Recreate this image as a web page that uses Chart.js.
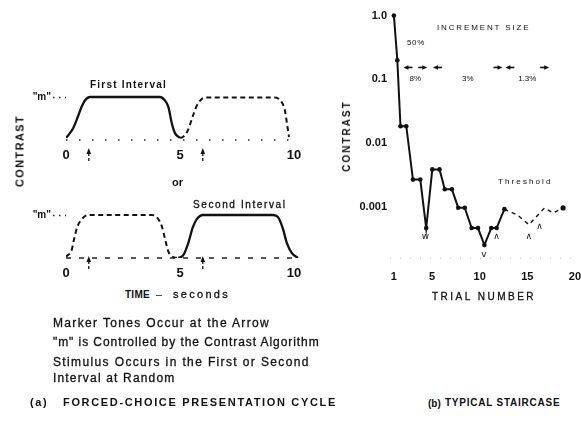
<!DOCTYPE html>
<html>
<head>
<meta charset="utf-8">
<script src="https://cdn.jsdelivr.net/npm/chart.js@4/dist/chart.umd.min.js"></script>
<style>
  html, body { margin: 0; padding: 0; background: #fff; }
  #page { position: relative; width: 581px; height: 432px; overflow: hidden; background: #fff;
          font-family: "Liberation Sans", Arial, sans-serif; color: #111; }
  canvas { position: absolute; }
  .t { position: absolute; white-space: nowrap; line-height: 1; }
  .b { font-weight: bold; }
  .n { -webkit-text-stroke: 0.3px #111; }
  .rot { transform: translate(-50%, -50%) rotate(-90deg); transform-origin: 50% 50%; }
</style>
</head>
<body>
<div id="page">
  <canvas id="cycleFirst" width="305" height="100" style="left:0;top:70px"></canvas>
  <canvas id="cycleSecond" width="305" height="100" style="left:0;top:188px"></canvas>
  <canvas id="staircase" width="281" height="290" style="left:300px;top:0"></canvas>

  <!-- panel (a) -->
  <div class="t b rot" data-w="72" style="left:20px;top:151px;font-size:11px">CONTRAST</div>
  <div class="t b" data-w="77" style="left:90px;top:80px;font-size:10px">First Interval</div>
  <div class="t b" style="left:172px;top:177px;font-size:11px">or</div>
  <div class="t n" data-w="94" style="left:193px;top:200px;font-size:10px">Second Interval</div>
  <div class="t b" data-w="25" style="left:125px;top:290px;font-size:10px">TIME</div>
  <div class="t" style="left:156px;top:289px;font-size:11px">–</div>
  <div class="t n" data-w="57" style="left:173px;top:289px;font-size:11px">seconds</div>
  <div class="t n" data-w="217" style="left:53px;top:317px;font-size:12px">Marker Tones Occur at the Arrow</div>
  <div class="t n" data-w="267" style="left:53px;top:336px;font-size:12px">"m" is Controlled by the Contrast Algorithm</div>
  <div class="t n" data-w="257" style="left:53px;top:356px;font-size:12px">Stimulus Occurs in the First or Second</div>
  <div class="t n" data-w="122" style="left:53px;top:372px;font-size:12px">Interval at Random</div>
  <div class="t b" data-w="18" style="left:30px;top:397px;font-size:11px">(a)</div>
  <div class="t b" data-w="274" style="left:63px;top:397px;font-size:11px">FORCED-CHOICE PRESENTATION CYCLE</div>

  <!-- panel (b) -->
  <div class="t b rot" data-w="72" style="left:347px;top:136px;font-size:10px">CONTRAST</div>
  <div class="t n" data-w="104" style="left:432px;top:292px;font-size:10px">TRIAL NUMBER</div>
  <div class="t" data-w="93" style="left:437px;top:24px;font-size:8px">INCREMENT SIZE</div>
  <div class="t" data-w="18" style="left:407px;top:39px;font-size:8px">50%</div>
  <div class="t" data-w="55" style="left:498px;top:178px;font-size:8px">Threshold</div>
  <div class="t b" style="left:428px;top:399px;font-size:10px">(b)</div>
  <div class="t b" data-w="115" style="left:445px;top:398px;font-size:10px">TYPICAL STAIRCASE</div>
</div>

<script>
// ---- Forced-choice presentation cycle (time in seconds, contrast as a fraction of "m") ----
const cycleTicks = [0, 5, 10];
const markerTimes = [1, 6];

// First interval carries the stimulus (solid), second interval dashed
const firstSolidT = [0, 0.1, 0.32, 0.54, 0.69, 0.83, 1.05, 4.12, 4.34, 4.49, 4.64, 4.78, 5.0];
const firstSolidC = [0.05, 0.11, 0.28, 0.57, 0.78, 0.92, 1.0, 1.0, 0.92, 0.77, 0.39, 0.16, 0.05];
const firstDashT  = [5.0, 5.13, 5.35, 5.57, 5.79, 6.1, 9.17, 9.47, 9.6, 9.69, 9.78];
const firstDashC  = [0.05, 0.07, 0.23, 0.57, 0.85, 0.99, 0.99, 0.87, 0.69, 0.39, 0.07];

// Second interval carries the stimulus (solid), first interval dashed
const secondDashT  = [0, 0.25, 0.35, 0.5, 0.69, 0.98, 3.76, 3.98, 4.2, 4.35, 4.49, 4.71, 4.93];
const secondDashC  = [0.03, 0.19, 0.43, 0.73, 0.9, 1.0, 1.0, 0.95, 0.74, 0.43, 0.15, 0.02, 0];
const secondSolidT = [4.93, 5.15, 5.37, 5.56, 5.73, 6.01, 9.08, 9.3, 9.52, 9.68, 9.9, 10.17];
const secondSolidC = [0, 0.07, 0.36, 0.71, 0.9, 1.0, 1.0, 0.95, 0.67, 0.36, 0.12, 0];

// ---- Typical staircase ----
const trialTicks = [1, 5, 10, 15, 20];
const levelTicks = [1, 0.1, 0.01, 0.001];
const levelLabels = ['1.0', '0.1', '0.01', '0.001'];

const stairTrial = [1.0, 1.36, 1.69, 2.3, 3.0, 3.77, 4.39, 5.03, 5.79, 6.34, 7.09, 7.75, 8.44, 9.16, 9.83, 10.5, 11.22, 11.78, 12.6];
const stairLevel = [1.0, 0.2, 0.0185, 0.0185, 0.0027, 0.0027, 0.00047, 0.0039, 0.0039, 0.0019, 0.0019, 0.00098, 0.00098, 0.00047, 0.00047, 0.000255, 0.00047, 0.00047, 0.00093];
const threshTrial = [12.6, 13.99, 15.17, 16.81, 17.74, 18.76];
const threshLevel = [0.00093, 0.00075, 0.00053, 0.00097, 0.00081, 0.00097];

const reversalTrial = [4.3, 10.45, 11.78, 15.17, 16.3];
const reversalLevel = [0.00034, 0.000178, 0.00034, 0.00034, 0.0005];
const reversalSym   = ['w', 'v', '\u2227', '\u2227', '\u2227'];

const incrementLabel = ['8%', '3%', '1.3%'];
const incrementFrom  = [2.0, 5.1, 12.7];
const incrementTo    = [4.5, 12.4, 17.3];
const incrementLevel = 0.154;

// ---------------------------------------------------------------
const FONT = '"Liberation Sans", Arial, sans-serif';
const INK = '#111';
const CLEAR = 'rgba(0,0,0,0)';
const pts = (xs, ys) => xs.map((x, i) => ({ x, y: ys[i] }));

// stretch captions to their measured widths
document.querySelectorAll('.t[data-w]').forEach(el => {
  const target = +el.dataset.w;
  const n = el.textContent.length;
  const nat = el.offsetWidth;
  el.style.letterSpacing = ((target - nat) / n).toFixed(2) + 'px';
});

// dotted time/trial axis along the bottom of the plot area
const dottedBase = {
  id: 'dottedBase',
  beforeDatasetsDraw(chart, args, o) {
    const { ctx, chartArea: a } = chart;
    const yb = chart.scales.y.getPixelForValue(o.value);
    ctx.save();
    ctx.strokeStyle = o.color; ctx.lineWidth = o.width; ctx.setLineDash(o.dash);
    ctx.beginPath(); ctx.moveTo(a.left, yb); ctx.lineTo(o.right ? o.right : a.right, yb); ctx.stroke();
    ctx.restore();
  }
};

// upward arrows marking the tone times under the time axis
const markerArrows = {
  id: 'markerArrows',
  afterDraw(chart, args, o) {
    const { ctx, scales: { x, y } } = chart;
    const base = y.getPixelForValue(0);
    ctx.save();
    ctx.fillStyle = INK; ctx.strokeStyle = INK;
    o.times.forEach(t => {
      const px = x.getPixelForValue(t);
      const y1 = base + o.from, y2 = base + o.to;
      ctx.beginPath();
      ctx.moveTo(px, y1); ctx.lineTo(px - 2.3, y1 + 6); ctx.lineTo(px + 2.3, y1 + 6); ctx.closePath();
      ctx.fill();
      ctx.lineWidth = 1.3; ctx.setLineDash([3, 2]);
      ctx.beginPath(); ctx.moveTo(px, y1 + 5); ctx.lineTo(px, y2); ctx.stroke();
      ctx.setLineDash([]);
    });
    ctx.restore();
  }
};

function cycleChart(id, solid, dashed, arrowFrom, arrowTo, baseDash) {
  const unit = 43, pxPerSec = 22.8, left = 66, baseY = 70, yMax = 1.15, xMax = 10.3;
  const canvas = document.getElementById(id);
  return new Chart(canvas, {
    type: 'line',
    data: {
      datasets: [
        { data: solid, borderColor: INK, borderWidth: 2.3, cubicInterpolationMode: 'monotone', pointRadius: 0 },
        { data: dashed, borderColor: INK, borderWidth: 2, borderDash: [5, 3.5], cubicInterpolationMode: 'monotone', pointRadius: 0 }
      ]
    },
    options: {
      responsive: false, animation: false, devicePixelRatio: 1,
      layout: { autoPadding: false, padding: { left: 0, bottom: 0, top: baseY - yMax * unit, right: canvas.width - left - xMax * pxPerSec } },
      plugins: {
        legend: { display: false }, tooltip: { enabled: false },
        markerArrows: { times: markerTimes, from: arrowFrom, to: arrowTo },
        dottedBase: { value: 0, color: '#222', width: 1.6, dash: baseDash, right: left + 10 * pxPerSec }
      },
      scales: {
        x: {
          type: 'linear', min: 0, max: xMax,
          afterBuildTicks: s => { s.ticks = cycleTicks.map(v => ({ value: v })); },
          afterFit: s => { s.height = canvas.height - baseY; },
          grid: { display: true, drawOnChartArea: false, drawTicks: true, tickLength: 8, tickColor: CLEAR },
          border: { display: false },
          ticks: { padding: 0, color: INK, font: { family: FONT, size: 13, weight: 'bold' }, maxRotation: 0, autoSkip: false }
        },
        y: {
          min: 0, max: yMax,
          afterBuildTicks: s => { s.ticks = [{ value: 1 }]; },
          afterFit: s => { s.width = left; },
          grid: { drawOnChartArea: false, drawTicks: true, tickLength: 13, tickColor: '#222', tickWidth: 1.5, tickBorderDash: [1.5, 4.5] },
          border: { display: false },
          ticks: { padding: 2, color: INK, font: { family: FONT, size: 10, weight: 'bold' }, callback: () => '"m"' }
        }
      }
    },
    plugins: [markerArrows, dottedBase]
  });
}

cycleChart('cycleFirst', pts(firstSolidT, firstSolidC), pts(firstDashT, firstDashC), 8, 22, [1.5, 11.5]);
cycleChart('cycleSecond', pts(secondSolidT, secondSolidC), pts(secondDashT, secondDashC), -2, 11, [5, 8]);

// increment-size arrows and reversal marks on the staircase
const stairNotes = {
  id: 'stairNotes',
  afterDatasetsDraw(chart) {
    const { ctx, scales: { x, y } } = chart;
    ctx.save();
    ctx.fillStyle = INK; ctx.strokeStyle = INK; ctx.lineWidth = 1.6;
    const yy = y.getPixelForValue(incrementLevel);
    const head = (px, dir) => {
      ctx.beginPath();
      ctx.moveTo(px, yy); ctx.lineTo(px - dir * 5, yy - 2.2); ctx.lineTo(px - dir * 5, yy + 2.2); ctx.closePath(); ctx.fill();
      ctx.beginPath(); ctx.moveTo(px - dir * 4, yy); ctx.lineTo(px - dir * 9, yy); ctx.stroke();
    };
    ctx.font = '8px ' + FONT; ctx.textAlign = 'center'; ctx.textBaseline = 'middle';
    incrementLabel.forEach((lab, i) => {
      const a = x.getPixelForValue(incrementFrom[i]), b = x.getPixelForValue(incrementTo[i]);
      head(a, -1); head(b, 1);
      ctx.fillText(lab, (a + b) / 2, yy + 11);
    });
    ctx.font = '9px "DejaVu Sans", ' + FONT;
    reversalSym.forEach((s, i) => {
      ctx.fillText(s, x.getPixelForValue(reversalTrial[i]), y.getPixelForValue(reversalLevel[i]));
    });
    ctx.restore();
  }
};

(function () {
  const canvas = document.getElementById('staircase');
  const left = 90, decadePx = 64, oneY = 15, padTop = 6, botLog = -3.8;
  const topLog = (oneY - padTop) / decadePx;
  const xMin = 0.59, xMax = 20.2;
  const lastIdx = threshTrial.length - 1;
  new Chart(canvas, {
    type: 'line',
    data: {
      datasets: [
        { data: pts(stairTrial, stairLevel), borderColor: INK, borderWidth: 2, tension: 0,
          pointRadius: 2.3, pointBackgroundColor: INK, pointBorderWidth: 0 },
        { data: pts(threshTrial, threshLevel), borderColor: INK, borderWidth: 1.4, borderDash: [4, 4], tension: 0,
          pointRadius: c => (c.dataIndex === lastIdx ? 2.6 : 0), pointBackgroundColor: INK, pointBorderWidth: 0 }
      ]
    },
    options: {
      responsive: false, animation: false, devicePixelRatio: 1,
      layout: { autoPadding: false, padding: { left: 0, right: 0, bottom: 0, top: padTop } },
      plugins: {
        legend: { display: false }, tooltip: { enabled: false },
        dottedBase: { value: Math.pow(10, botLog), color: '#bbb', width: 1, dash: [1, 9] }
      },
      scales: {
        x: {
          type: 'linear', min: xMin, max: xMax,
          afterBuildTicks: s => { s.ticks = trialTicks.map(v => ({ value: v })); },
          afterFit: s => { s.height = canvas.height - (oneY - botLog * decadePx); },
          grid: { display: true, drawOnChartArea: false, drawTicks: true, tickLength: 12, tickColor: CLEAR },
          border: { display: false },
          ticks: { padding: 0, color: INK, font: { family: FONT, size: 11, weight: 'bold' }, maxRotation: 0, autoSkip: false }
        },
        y: {
          type: 'logarithmic', min: Math.pow(10, botLog), max: Math.pow(10, topLog),
          afterBuildTicks: s => { s.ticks = levelTicks.map(v => ({ value: v })); },
          afterFit: s => { s.width = left; },
          grid: { display: true, drawOnChartArea: false, drawTicks: true, tickLength: 3, tickColor: CLEAR },
          border: { display: false },
          ticks: { padding: 0, color: INK, font: { family: FONT, size: 11, weight: 'bold' },
                   callback: (v, i) => levelLabels[i] }
        }
      }
    },
    plugins: [stairNotes, dottedBase]
  });
})();
</script>
</body>
</html>
